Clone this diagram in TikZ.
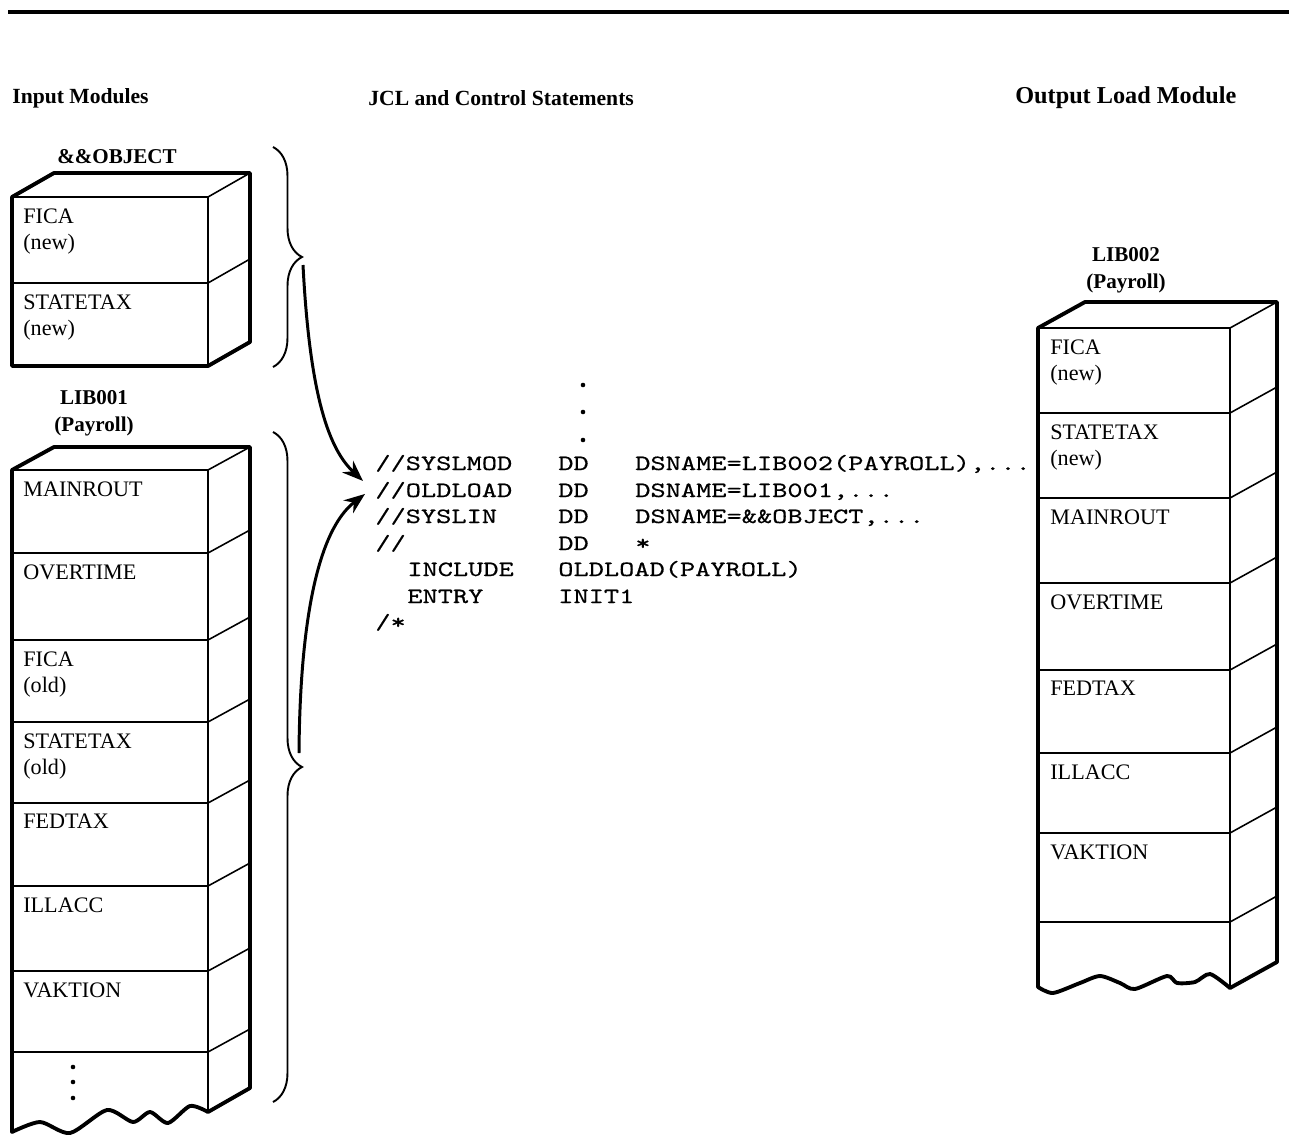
\documentclass[tikz,border=0pt]{standalone}
\usepackage{fontspec}
\setmainfont{Liberation Serif}
\newfontfamily\jclfont[FakeStretch=1.33,FakeBold=0.5]{lmmono10-regular.otf}
\usetikzlibrary{arrows.meta,calc,decorations.pathreplacing}

% one JCL line: name field, operation field, operand field
\newcommand{\jclrow}[3]{\makebox[3.66cm][l]{#1}\makebox[1.54cm][l]{#2}#3}

\begin{document}
\begin{tikzpicture}[
  x=0.02cm,y=-0.02cm,
  >={Stealth[length=4.2mm,width=3.2mm]},
  outer/.style={line width=2.2pt,line join=round},
  inner/.style={line width=0.9pt},
  hdr/.style={font=\fontsize{12.3}{15}\selectfont\bfseries,anchor=west,inner sep=0pt},
  title/.style={font=\fontsize{12}{15.3}\selectfont\bfseries,align=center,inner sep=0pt},
  modlab/.style={font=\fontsize{12.6}{15.3}\selectfont,align=left,anchor=north west,inner sep=0pt},
  jcl/.style={font=\jclfont\fontsize{12.4}{15}\selectfont,anchor=base west,inner sep=0pt},
  brc/.style={decorate,decoration={brace,amplitude=16.5pt},line width=1.1pt},
  ar/.style={->,line width=1.7pt},
  dot/.style={circle,fill,inner sep=0pt,minimum size=2.6pt}
]
\useasboundingbox (0,0) rectangle (1289,1136);

% TOP RULE AND COLUMN HEADINGS
\draw[line width=1.8pt] (8,12) -- (1289,12);
\node[hdr] (hinput) at (12,98)  {Input Modules};
\node[hdr] (hjcl)   at (368,98) {JCL and Control Statements};
\node[hdr,font=\fontsize{13.8}{15}\selectfont\bfseries] (hout) at (1015,98) {Output Load Module};

% INPUT: &&OBJECT
\node[title] (objtitle) at (117,157) {\&\&OBJECT};
\draw[inner] (12,197) -- (208,197) -- (250,173);
\draw[inner] (208,197) -- (208,366);
\draw[inner] (12,283) -- (208,283) -- (250,259);
\draw[outer] (12,197) -- (54,173) -- (250,173) -- (250,342) -- (208,366) -- (12,366) -- cycle;
\foreach \y/\txt in {197/{FICA\\(new)}, 283/{STATETAX\\(new)}}
  \node[modlab] (obj-\y) at (23,\y+11) {\txt};

% INPUT: LIB001
\node[title] (lib1title) at (94,413) {LIB001\\(Payroll)};
\draw[inner] (12,470) -- (208,470) -- (250,447);
\draw[inner] (208,470) -- (208,1112);
\foreach \y in {553,640,722,803,886,971,1052}
  \draw[inner] (12,\y) -- (208,\y) -- (250,\y-23);
\draw[outer] (250,447) -- (54,447) -- (12,470) -- plot[smooth,tension=0.45] coordinates
  {(12,1132) (40,1122) (70,1133) (107,1110) (133,1122) (150,1112) (168,1123) (190,1106) (208,1112)}
  -- (250,1088) -- cycle;
\foreach \y/\txt in {470/MAINROUT, 553/OVERTIME, 640/{FICA\\(old)}, 722/{STATETAX\\(old)}, 803/FEDTAX, 886/ILLACC, 971/VAKTION}
  \node[modlab] (lib1-\y) at (23,\y+11) {\txt};
\foreach \y in {1067,1082,1098}
  \node[dot] (lib1dot-\y) at (73,\y) {};

% BRACES ROUND THE INPUTS
\coordinate (objtop) at (273,147);
\coordinate (objbot) at (273,367);
\coordinate (libtop) at (273,432);
\coordinate (libbot) at (273,1102);
\draw[brc] (objtop) -- (objbot);
\draw[brc] (libtop) -- (libbot);
\coordinate (objtip) at ($(objtop)!0.5!(objbot)+(30,8)$);
\coordinate (libtip) at ($(libtop)!0.5!(libbot)+(26,-14)$);

% JCL AND CONTROL STATEMENTS
\foreach \y in {385,412,440}
  \node[dot] (jdot-\y) at (583,\y) {};
\node[jcl] (jsyslmod) at (375,470) {\jclrow{//SYSLMOD}{DD}{DSNAME=LIB002(PAYROLL),...}};
\node[jcl] (joldload) at (375,497) {\jclrow{//OLDLOAD}{DD}{DSNAME=LIB001,...}};
\node[jcl] (jsyslin)  at (375,523) {\jclrow{//SYSLIN}{DD}{DSNAME=\&\&OBJECT,...}};
\node[jcl] (jinput)   at (375,550) {\jclrow{//}{DD}{*}};
\node[jcl] (jinclude) at (375,576) {\makebox[3.66cm][l]{\hspace*{0.64cm}INCLUDE}OLDLOAD(PAYROLL)};
\node[jcl] (jentry)   at (375,603) {\makebox[3.66cm][l]{\hspace*{0.64cm}ENTRY}INIT1};
\node[jcl] (jend)     at (375,629) {/*};

\coordinate (tipA) at ($(joldload.west)+(-12,-10)$);
\coordinate (tipB) at ($(joldload.west)+(-10,3)$);
\draw[ar] (objtip) .. controls (310,400) and (330,450) .. (tipA);
\draw[ar] (libtip) .. controls (300,620) and (318,530) .. (tipB);

% OUTPUT: LIB002
\node[title] (lib2title) at (1126,270) {LIB002\\(Payroll)};
\draw[inner] (1038,328) -- (1230,328) -- (1277,302);
\draw[inner] (1230,328) -- (1230,988);
\foreach \y in {413,498,583,670,753,833,922}
  \draw[inner] (1038,\y) -- (1230,\y) -- (1277,\y-26);
\draw[outer] (1277,302) -- (1085,302) -- (1038,328) -- plot[smooth,tension=0.45] coordinates
  {(1038,987) (1053,993) (1080,983) (1100,976) (1120,983) (1135,989) (1167,976) (1177,983) (1195,982) (1210,974) (1230,988)}
  -- (1277,962) -- cycle;
\foreach \y/\txt in {328/{FICA\\(new)}, 413/{STATETAX\\(new)}, 498/MAINROUT, 583/OVERTIME, 670/FEDTAX, 753/ILLACC, 833/VAKTION}
  \node[modlab] (lib2-\y) at (1050,\y+11) {\txt};

\end{tikzpicture}
\end{document}
